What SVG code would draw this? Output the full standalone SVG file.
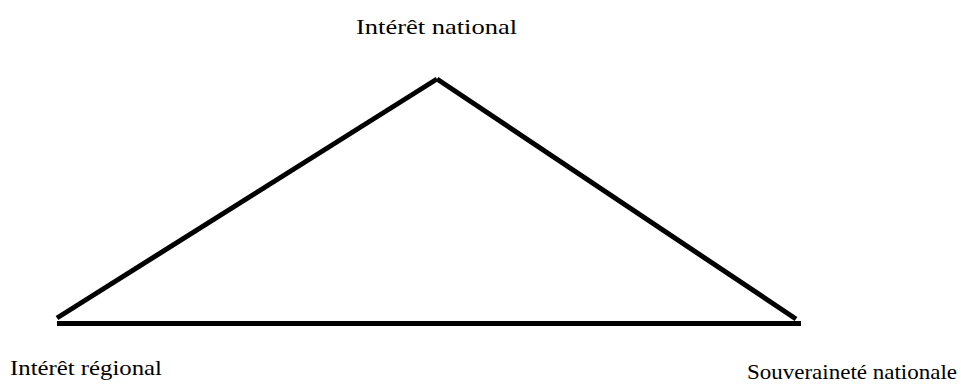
<svg xmlns="http://www.w3.org/2000/svg" width="961" height="385" viewBox="0 0 961 385">
<style>
.lbl{font-family:"Liberation Serif","DejaVu Serif",serif;font-size:21px;fill:#000}
.ln{stroke:#000;stroke-width:5;fill:none}
</style>
<rect width="961" height="385" fill="#fff"/>
<g id="connectors">
<line class="ln" x1="57" y1="318" x2="437" y2="79"/>
<line class="ln" x1="437" y1="79" x2="796" y2="319"/>
<line class="ln" x1="57" y1="323.5" x2="801" y2="323.5"/>
</g>
<g id="n-national"><text class="lbl" x="356" y="34" textLength="161" lengthAdjust="spacingAndGlyphs">Intérêt national</text></g>
<g id="n-regional"><text class="lbl" x="10" y="375" textLength="152" lengthAdjust="spacingAndGlyphs">Intérêt régional</text></g>
<g id="n-souverainete"><text class="lbl" x="747" y="379" textLength="210" lengthAdjust="spacingAndGlyphs">Souveraineté nationale</text></g>
</svg>
